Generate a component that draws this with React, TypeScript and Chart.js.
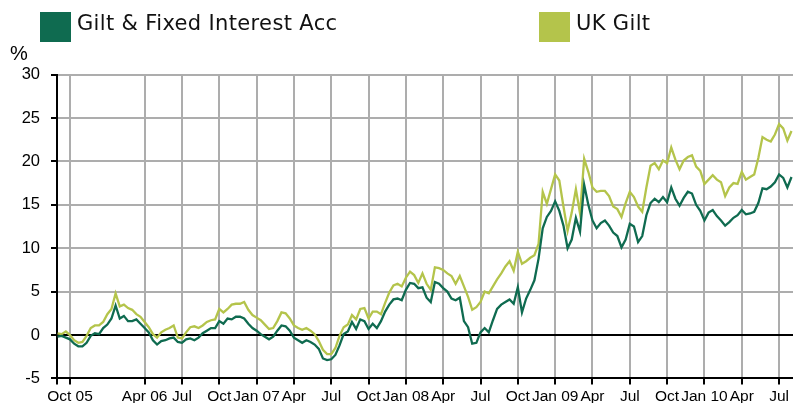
import React, { useEffect, useRef } from 'react';
import { Chart, registerables } from 'chart.js';

Chart.register(...registerables);

// Series names
const SERIES_NAMES = ['Gilt & Fixed Interest Acc', 'UK Gilt'];

// Sampling: one value every third of a month, first sample at the start of Sep 2005.
// x is expressed in months relative to Oct 2005.
const FIRST_MONTH = -1;
const STEP_MONTHS = 1 / 3;

// Cumulative performance, % (Gilt & Fixed Interest Acc)
const GILT_FIXED = [
  -0.2, -0.1, -0.3, -0.5, -1.0, -1.3, -1.3, -0.9, -0.1, 0.2,
  0.1, 0.8, 1.2, 1.9, 3.4, 1.9, 2.2, 1.6, 1.6, 1.8,
  1.3, 0.8, 0.3, -0.6, -1.1, -0.7, -0.6, -0.4, -0.3, -0.8,
  -0.9, -0.5, -0.4, -0.6, -0.3, 0.2, 0.5, 0.8, 0.8, 1.6,
  1.3, 1.9, 1.8, 2.1, 2.1, 1.9, 1.3, 0.8, 0.5, 0.1,
  -0.2, -0.5, -0.2, 0.5, 1.1, 1.0, 0.5, -0.3, -0.6, -0.9,
  -0.6, -0.8, -1.1, -1.6, -2.7, -2.9, -2.8, -2.3, -1.2, 0.1,
  0.4, 1.5, 0.7, 1.8, 1.6, 0.7, 1.3, 0.8, 1.6, 2.7,
  3.5, 4.1, 4.2, 4.0, 5.2, 6.0, 5.9, 5.4, 5.5, 4.3,
  3.8, 6.1, 5.9, 5.4, 5.0, 4.2, 4.0, 4.3, 1.6, 0.9,
  -1.0, -0.9, 0.3, 0.8, 0.3, 1.7, 3.0, 3.5, 3.8, 4.1,
  3.6, 5.5, 2.6, 4.2, 5.2, 6.3, 8.8, 12.3, 13.6, 14.3,
  15.4, 14.3, 12.6, 10.0, 11.0, 13.5, 11.9, 17.3, 15.0, 13.2,
  12.3, 12.9, 13.2, 12.6, 11.8, 11.4, 10.1, 11.0, 12.8, 12.5,
  10.7, 11.4, 13.8, 15.2, 15.7, 15.3, 15.9, 15.3, 17.0, 15.7,
  14.9, 15.8, 16.5, 16.3, 15.0, 14.3, 13.2, 14.1, 14.4, 13.7,
  13.2, 12.6, 13.0, 13.5, 13.8, 14.4, 13.9, 14.0, 14.2, 15.2,
  16.9, 16.8, 17.1, 17.6, 18.5, 18.1, 17.0, 18.2,
];

// Cumulative performance, % (UK Gilt)
const UK_GILT = [
  0.2, 0.1, 0.4, 0.0, -0.6, -0.9, -0.8, -0.1, 0.8, 1.1,
  1.1, 1.5, 2.4, 3.0, 4.8, 3.3, 3.5, 3.1, 2.9, 2.4,
  2.1, 1.5, 0.9, 0.1, -0.3, 0.3, 0.6, 0.8, 1.1, -0.3,
  -0.4, 0.3, 0.9, 1.0, 0.8, 1.1, 1.5, 1.7, 1.8, 3.0,
  2.6, 3.0, 3.5, 3.6, 3.6, 3.8, 2.9, 2.3, 2.0, 1.7,
  1.2, 0.7, 0.8, 1.6, 2.6, 2.5, 1.9, 1.1, 0.8, 0.6,
  0.8, 0.5, 0.1, -0.7, -1.7, -2.2, -2.2, -1.5, -0.1, 0.9,
  1.2, 2.3, 1.8, 3.0, 3.1, 1.9, 2.7, 2.7, 2.4, 3.7,
  4.9, 5.7, 5.9, 5.6, 6.6, 7.3, 6.9, 6.0, 7.1, 5.9,
  5.2, 7.8, 7.7, 7.5, 7.1, 6.8, 5.9, 6.8, 5.6, 4.4,
  2.9, 3.2, 3.8, 5.0, 4.8, 5.6, 6.4, 7.1, 7.9, 8.5,
  7.4, 9.6, 8.2, 8.5, 8.9, 9.2, 10.5, 16.5, 15.1, 16.8,
  18.5, 17.8, 14.8, 12.0, 14.1, 16.8, 14.0, 20.3, 18.8, 17.0,
  16.5, 16.6, 16.6, 16.0, 14.8, 14.5, 13.6, 15.2, 16.5, 15.9,
  14.8, 14.2, 17.0, 19.5, 19.8, 19.1, 20.1, 19.8, 21.6, 20.2,
  19.1, 20.1, 20.5, 20.7, 19.4, 18.9, 17.4, 17.9, 18.4, 17.9,
  17.6, 16.0, 17.0, 17.5, 17.4, 18.8, 17.9, 18.2, 18.5, 20.4,
  22.8, 22.5, 22.3, 23.1, 24.3, 23.8, 22.4, 23.5,
];

// X axis ticks (months after Oct 2005) and labels
const TICK_MONTHS = [0, 6, 9, 12, 15, 18, 21, 24, 27, 30, 33, 36, 39, 42, 45, 48, 51, 54, 57];
const TICK_LABELS = [
  'Oct 05', 'Apr 06', 'Jul', 'Oct', 'Jan 07', 'Apr', 'Jul', 'Oct', 'Jan 08', 'Apr',
  'Jul', 'Oct', 'Jan 09', 'Apr', 'Jul', 'Oct', 'Jan 10', 'Apr', 'Jul',
];

// Axis ranges
const X_MIN = -1.045;
const X_MAX = 58.12;
const Y_MIN = -5;
const Y_MAX = 30;
const Y_STEP = 5;

const DARK = '#0f6b50';
const LIGHT = '#b4c44b';
const GRID = '#adadad';

const W = 793;
const H = 403;

const overlayPlugin = {
  id: 'overlay',
  afterDraw(chart: any) {
    const ctx = chart.ctx;
    ctx.save();
    ctx.fillStyle = DARK;
    ctx.fillRect(40, 12, 31, 30);
    ctx.fillStyle = LIGHT;
    ctx.fillRect(539, 12, 31, 30);
    ctx.fillStyle = '#111';
    ctx.textBaseline = 'alphabetic';
    ctx.textAlign = 'left';
    ctx.font = '21px "DejaVu Sans"';
    try { (ctx as any).letterSpacing = '0.35px'; } catch (e) { /* ignore */ }
    ctx.fillText(SERIES_NAMES[0], 77, 30);
    ctx.fillText(SERIES_NAMES[1], 576, 30);
    try { (ctx as any).letterSpacing = '0px'; } catch (e) { /* ignore */ }
    ctx.font = '20px "Liberation Sans"';
    ctx.fillStyle = '#000';
    ctx.fillText('%', 10, 60);
    ctx.restore();
  },
};

export default function App() {
  const ref = useRef<HTMLCanvasElement | null>(null);

  useEffect(() => {
    const canvas = ref.current;
    if (!canvas) return;
    const toPoints = (arr: number[]) =>
      arr.map((v, i) => ({ x: FIRST_MONTH + i * STEP_MONTHS, y: v }));

    const chart = new Chart(canvas, {
      type: 'line',
      data: {
        datasets: [
          {
            label: SERIES_NAMES[0],
            data: toPoints(GILT_FIXED),
            borderColor: DARK,
            backgroundColor: DARK,
            borderWidth: 2.3,
            pointRadius: 0,
            tension: 0,
          },
          {
            label: SERIES_NAMES[1],
            data: toPoints(UK_GILT),
            borderColor: LIGHT,
            backgroundColor: LIGHT,
            borderWidth: 2.3,
            pointRadius: 0,
            tension: 0,
          },
        ],
      },
      options: {
        responsive: false,
        animation: false,
        devicePixelRatio: 1,
        layout: { padding: { top: 74.6, left: 0, right: 0, bottom: 0 } },
        plugins: {
          legend: { display: false },
          tooltip: { enabled: false },
          title: { display: false },
        },
        scales: {
          x: {
            type: 'linear',
            min: X_MIN,
            max: X_MAX,
            afterBuildTicks: (scale: any) => {
              scale.ticks = [{ value: X_MIN }, ...TICK_MONTHS.map((v) => ({ value: v }))];
            },
            afterFit: (scale: any) => {
              scale.height = H - 378.4;
            },
            ticks: {
              autoSkip: false,
              maxRotation: 0,
              minRotation: 0,
              padding: 3,
              color: '#000',
              font: { family: '"Liberation Sans"', size: 15.5 },
              callback: (_v: any, index: number) => (index === 0 ? '' : TICK_LABELS[index - 1]),
            },
            grid: {
              color: (c: any) => (c.index === 0 ? '#000' : GRID),
              lineWidth: 2,
              tickLength: 6,
              tickColor: '#000',
              tickWidth: 2,
            },
            border: { color: '#000', width: 2 },
          },
          y: {
            min: Y_MIN,
            max: Y_MAX,
            afterFit: (scale: any) => {
              scale.width = 57;
            },
            ticks: {
              stepSize: Y_STEP,
              padding: 11,
              color: '#000',
              font: { family: '"Liberation Sans"', size: 16.5 },
            },
            grid: {
              color: (c: any) => (c.tick && c.tick.value === 0 ? '#000' : GRID),
              lineWidth: 2,
              tickLength: 6,
              tickColor: '#000',
              tickWidth: 2,
            },
            border: { color: '#000', width: 2 },
          },
        },
      },
      plugins: [overlayPlugin],
    });

    return () => chart.destroy();
  }, []);

  return (
    <div style={{ position: 'absolute', left: 0, top: 0, width: W, height: H, background: '#fff' }}>
      <canvas ref={ref} width={W} height={H} style={{ display: 'block' }} />
    </div>
  );
}
